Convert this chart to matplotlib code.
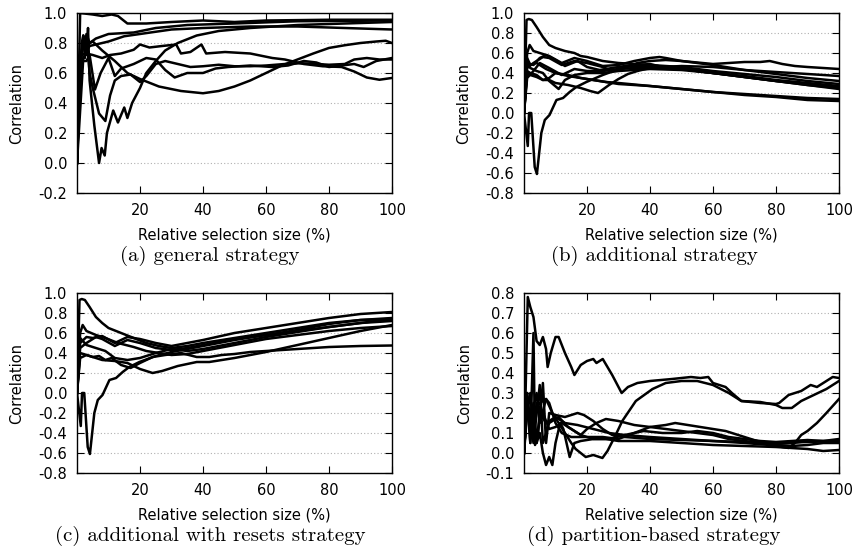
import matplotlib
matplotlib.use("Agg")
import matplotlib.pyplot as plt
from matplotlib.ticker import FormatStrFormatter, MultipleLocator

# each series: (relative selection size %, correlation)

# (a) general strategy
gen_1 = [(0, 0.0), (1, 1.0), (5, 0.99), (8, 0.98), (11, 0.99), (13, 0.98), (16, 0.93), (22, 0.93),
         (30, 0.94), (40, 0.95), (50, 0.94), (60, 0.95), (80, 0.955), (100, 0.955)]
gen_2 = [(0, 0.0), (1.5, 0.8), (2, 0.85), (2.5, 0.7), (3, 0.86), (4, 0.8), (6, 0.83), (10, 0.86),
         (18, 0.87), (25, 0.9), (35, 0.92), (50, 0.93), (70, 0.945), (100, 0.95)]
gen_3 = [(0, 0.0), (2, 0.7), (4, 0.78), (6, 0.79), (10, 0.81), (15, 0.845), (20, 0.86), (30, 0.89),
         (40, 0.9), (55, 0.91), (70, 0.91), (85, 0.9), (100, 0.89)]
gen_4 = [(0, 0.0), (1, 0.6), (2, 0.85), (3, 0.72), (3.5, 0.9), (4, 0.55), (5.5, 0.25), (7, 0.0),
         (7.8, 0.1), (8.8, 0.05), (9.5, 0.2), (11.5, 0.35), (13, 0.27), (15, 0.37), (16, 0.3),
         (17.5, 0.4), (20, 0.5), (22, 0.6), (25, 0.68), (28, 0.75), (32, 0.8), (38, 0.85),
         (45, 0.88), (55, 0.9), (70, 0.92), (85, 0.93), (100, 0.94)]
gen_5 = [(0, 0.0), (1, 0.65), (2, 0.8), (3, 0.75), (4, 0.8), (5, 0.81), (8, 0.75), (12, 0.68),
         (16, 0.6), (20, 0.56), (26, 0.51), (33, 0.48), (40, 0.465), (45, 0.48), (50, 0.51),
         (55, 0.55), (60, 0.6), (65, 0.65), (70, 0.69), (75, 0.73), (80, 0.767), (85, 0.785),
         (90, 0.8), (95, 0.81), (98, 0.815), (100, 0.8)]
gen_6 = [(0, 0.0), (1, 0.72), (3, 0.73), (5, 0.72), (8, 0.7), (10.5, 0.72), (14, 0.73), (18, 0.755),
         (20, 0.79), (23, 0.77), (27, 0.78), (31.5, 0.79), (33, 0.73), (36, 0.74), (39.5, 0.79),
         (41, 0.73), (47, 0.74), (55, 0.73), (62, 0.7), (66, 0.69), (72, 0.66), (78, 0.645),
         (84, 0.64), (88, 0.61), (92, 0.57), (96, 0.555), (100, 0.567)]
gen_7 = [(0, 0.0), (1, 0.7), (2, 0.8), (3, 0.85), (4, 0.6), (5, 0.5), (7, 0.33), (9, 0.28),
         (10.5, 0.45), (12, 0.55), (14, 0.58), (17, 0.59), (20, 0.54), (22, 0.58), (25, 0.66),
         (28, 0.68), (32, 0.66), (36, 0.64), (40, 0.645), (45, 0.655), (50, 0.645), (55, 0.645),
         (60, 0.65), (66, 0.66), (71, 0.665), (76, 0.66), (80, 0.655), (85, 0.66), (88, 0.69),
         (92, 0.7), (96, 0.69), (100, 0.69)]
gen_8 = [(0, 0.0), (1, 0.68), (3, 0.68), (4, 0.72), (5.7, 0.49), (7.5, 0.6), (10, 0.7), (12, 0.58),
         (14, 0.63), (18, 0.66), (22, 0.7), (25, 0.69), (28, 0.62), (31, 0.57), (35, 0.6),
         (40, 0.6), (44, 0.63), (48, 0.64), (55, 0.65), (62, 0.64), (67, 0.65), (72, 0.68),
         (76, 0.67), (80, 0.64), (84, 0.65), (88, 0.66), (91, 0.64), (95, 0.68), (100, 0.7)]

# (b) additional strategy
add_1 = [(0, 0.0), (0.8, 0.93), (1.5, 0.94), (2.5, 0.93), (4, 0.86), (6, 0.76), (8, 0.68),
         (10, 0.65), (13, 0.62), (16, 0.6), (18, 0.57), (20, 0.56), (25, 0.52), (30, 0.5),
         (40, 0.48), (50, 0.46), (60, 0.42), (70, 0.39), (80, 0.36), (90, 0.32), (100, 0.29)]
add_2 = [(0, 0.0), (1, 0.6), (1.8, 0.68), (3, 0.62), (5, 0.6), (8, 0.57), (12, 0.5), (16, 0.55),
         (20, 0.52), (25, 0.47), (30, 0.48), (35, 0.52), (40, 0.55), (43, 0.56), (45, 0.55),
         (50, 0.52), (60, 0.48), (70, 0.43), (80, 0.39), (90, 0.35), (100, 0.32)]
add_3 = [(0, 0.0), (1, 0.45), (3, 0.5), (6, 0.56), (8, 0.55), (12, 0.48), (16, 0.52), (20, 0.5),
         (25, 0.46), (28, 0.42), (32, 0.45), (36, 0.5), (40, 0.52), (45, 0.53), (50, 0.52),
         (60, 0.49), (65, 0.5), (70, 0.51), (75, 0.51), (78, 0.52), (82, 0.49), (86, 0.47),
         (90, 0.46), (95, 0.45), (100, 0.44)]
add_4 = [(0, 0.0), (1.2, -0.33), (1.6, 0.0), (2.3, 0.0), (3.4, -0.54), (4.1, -0.61), (5.5, -0.2),
         (6.6, -0.07), (8.1, -0.02), (10.3, 0.13), (12.4, 0.15), (14.5, 0.21), (16.6, 0.26),
         (19.8, 0.31), (25, 0.38), (29.3, 0.43), (33.5, 0.47), (40, 0.47), (45, 0.46),
         (50, 0.44), (60, 0.4), (70, 0.36), (80, 0.32), (90, 0.29), (100, 0.26)]
add_5 = [(0, 0.0), (1, 0.4), (2, 0.38), (4, 0.36), (6, 0.33), (8, 0.33), (10, 0.3), (14, 0.28),
         (18, 0.25), (21, 0.22), (23.5, 0.2), (27, 0.28), (30, 0.34), (33, 0.39), (36, 0.42),
         (40, 0.45), (45, 0.45), (50, 0.44), (60, 0.4), (70, 0.36), (80, 0.32), (90, 0.28),
         (100, 0.25)]
add_6 = [(0, 0.0), (1, 0.5), (2, 0.45), (4, 0.42), (6, 0.4), (8, 0.32), (11, 0.24), (13, 0.33),
         (16, 0.38), (20, 0.4), (25, 0.4), (30, 0.42), (40, 0.44), (50, 0.43), (60, 0.4),
         (70, 0.36), (80, 0.32), (90, 0.28), (100, 0.24)]
add_7 = [(0, 0.0), (1, 0.42), (2, 0.4), (4, 0.38), (6, 0.33), (8, 0.35), (10, 0.4), (14, 0.37),
         (18, 0.35), (22, 0.33), (26, 0.31), (30, 0.29), (35, 0.28), (40, 0.27), (50, 0.24),
         (60, 0.21), (70, 0.19), (80, 0.17), (90, 0.15), (100, 0.14)]
add_8 = [(0, 0.0), (1, 0.55), (2, 0.48), (4, 0.5), (7, 0.44), (10, 0.4), (14, 0.38), (18, 0.35),
         (22, 0.33), (26, 0.31), (30, 0.3), (40, 0.27), (50, 0.24), (60, 0.21), (70, 0.18),
         (80, 0.16), (90, 0.13), (100, 0.12)]
add_9 = [(0, 0.0), (1, 0.5), (3, 0.48), (5, 0.55), (7, 0.58), (10, 0.53), (13, 0.47), (17, 0.52),
         (20, 0.46), (24, 0.43), (28, 0.45), (32, 0.47), (36, 0.48), (40, 0.49), (44, 0.46),
         (50, 0.47), (60, 0.46), (70, 0.43), (80, 0.41), (90, 0.39), (100, 0.37)]
add_10 = [(0, 0.0), (1, 0.35), (3, 0.42), (5, 0.5), (8, 0.45), (12, 0.38), (16, 0.44), (20, 0.42),
          (25, 0.42), (30, 0.44), (35, 0.45), (40, 0.45), (50, 0.44), (60, 0.4), (70, 0.37),
          (80, 0.33), (90, 0.3), (100, 0.27)]

# (c) additional with resets strategy
rst_1 = [(0, 0.0), (0.8, 0.93), (1.5, 0.94), (2.5, 0.93), (4, 0.86), (6, 0.76), (8, 0.7),
         (10, 0.65), (14, 0.6), (18, 0.55), (22, 0.5), (26, 0.47), (30, 0.45), (35, 0.47),
         (40, 0.5), (50, 0.55), (60, 0.6), (70, 0.65), (80, 0.7), (90, 0.73), (100, 0.74)]
rst_2 = [(0, 0.0), (1, 0.4), (4, 0.37), (8, 0.33), (12, 0.32), (16, 0.3), (20, 0.24), (24, 0.2),
         (27, 0.22), (32, 0.27), (38, 0.31), (42, 0.31), (50, 0.35), (60, 0.41), (70, 0.48),
         (80, 0.55), (90, 0.62), (100, 0.68)]
rst_3 = [(0, 0.0), (1.2, -0.33), (1.6, 0.0), (2.3, 0.0), (3.4, -0.54), (4.1, -0.61), (5.5, -0.2),
         (6.6, -0.07), (8.1, -0.02), (10.3, 0.13), (12.4, 0.15), (14.5, 0.21), (16.6, 0.26),
         (19.8, 0.31), (25, 0.37), (30, 0.41), (35, 0.44), (40, 0.47), (50, 0.53), (60, 0.58),
         (70, 0.63), (80, 0.69), (90, 0.73), (100, 0.75)]
rst_4 = [(0, 0.0), (1, 0.5), (3, 0.56), (5, 0.55), (8, 0.57), (12, 0.5), (16, 0.56), (20, 0.54),
         (25, 0.5), (30, 0.47), (35, 0.5), (40, 0.53), (50, 0.6), (60, 0.65), (70, 0.7),
         (80, 0.75), (90, 0.79), (100, 0.81)]
rst_5 = [(0, 0.0), (1, 0.35), (3, 0.38), (5, 0.36), (7, 0.37), (9, 0.33), (11, 0.35), (14, 0.28),
         (17, 0.25), (20, 0.3), (24, 0.36), (28, 0.38), (33, 0.4), (38, 0.36), (42, 0.36),
         (46, 0.38), (50, 0.39), (55, 0.41), (60, 0.42), (70, 0.44), (80, 0.46), (90, 0.47),
         (100, 0.475)]
rst_6 = [(0, 0.0), (1, 0.6), (1.8, 0.68), (3, 0.62), (6, 0.58), (9, 0.55), (13, 0.5), (18, 0.46),
         (22, 0.42), (26, 0.4), (30, 0.38), (35, 0.39), (40, 0.42), (50, 0.48), (60, 0.54),
         (70, 0.58), (80, 0.62), (90, 0.65), (100, 0.67)]
rst_7 = [(0, 0.0), (1, 0.45), (3, 0.5), (6, 0.56), (8, 0.54), (12, 0.47), (16, 0.53), (20, 0.5),
         (25, 0.45), (30, 0.43), (35, 0.45), (40, 0.48), (50, 0.54), (60, 0.58), (70, 0.62),
         (80, 0.66), (90, 0.7), (100, 0.72)]
rst_8 = [(0, 0.0), (1, 0.55), (3, 0.48), (6, 0.45), (9, 0.42), (12, 0.35), (16, 0.33), (20, 0.35),
         (25, 0.4), (30, 0.44), (35, 0.42), (40, 0.44), (50, 0.5), (60, 0.56), (70, 0.61),
         (80, 0.66), (90, 0.7), (100, 0.74)]

# (d) partition-based strategy
prt_1 = [(0, 0.0), (0.5, 0.3), (1.2, 0.78), (2, 0.73), (3, 0.68), (4, 0.56), (5, 0.54), (6, 0.58),
         (7, 0.52), (7.5, 0.43), (8.5, 0.5), (10, 0.58), (11, 0.58), (13, 0.5), (15, 0.43),
         (16, 0.39), (18, 0.44), (20, 0.46), (22, 0.47), (23, 0.45), (25, 0.47), (28, 0.39),
         (31, 0.3), (33, 0.33), (36, 0.35), (40, 0.36), (47, 0.37), (53, 0.38), (56, 0.375),
         (58.5, 0.38), (60, 0.35), (62, 0.34), (64, 0.33), (66, 0.3), (69, 0.26), (75, 0.25),
         (80, 0.245), (81, 0.25), (84, 0.29), (88, 0.31), (91, 0.34), (93, 0.33), (95, 0.35),
         (98, 0.38), (100, 0.375)]
prt_2 = [(0, 0.0), (1, 0.28), (2, 0.05), (3, 0.2), (5, 0.25), (7, 0.27), (9, 0.2), (11, 0.15),
         (13, 0.1), (15, 0.05), (16.4, 0.02), (19.6, -0.02), (22, -0.01), (24.9, -0.025),
         (26.5, 0.01), (29.1, 0.09), (31.2, 0.16), (35.5, 0.26), (40.8, 0.32), (45, 0.35),
         (50, 0.36), (55, 0.36), (60, 0.34), (65, 0.3), (69, 0.26), (75, 0.255), (80, 0.24),
         (82, 0.225), (85, 0.225), (88, 0.26), (92, 0.29), (96, 0.32), (100, 0.36)]
prt_3 = [(0, 0.0), (1, 0.3), (2, 0.1), (3, 0.25), (4, 0.05), (5, 0.2), (7, 0.15), (10, 0.18),
         (13, 0.15), (17, 0.14), (22, 0.12), (27, 0.1), (32, 0.09), (40, 0.08), (50, 0.07),
         (60, 0.06), (70, 0.05), (78, 0.04), (84, 0.025), (86, 0.05), (88, 0.09), (90, 0.11),
         (93, 0.15), (96, 0.2), (100, 0.27)]
prt_4 = [(0, 0.0), (1, 0.27), (2, 0.1), (3, 0.2), (4, 0.05), (5, 0.1), (6, 0.0), (7, -0.06),
         (8, -0.02), (9, -0.06), (10, 0.05), (11.5, 0.15), (12.5, 0.12), (13.5, 0.05),
         (14.5, -0.02), (16, 0.05), (18, 0.06), (22, 0.07), (26, 0.07), (30, 0.06), (40, 0.06),
         (50, 0.05), (60, 0.04), (70, 0.035), (80, 0.03), (90, 0.02), (95, 0.01), (100, 0.015)]
prt_5 = [(0, 0.0), (1, 0.3), (2, 0.05), (3, 0.6), (3.5, 0.04), (4.5, 0.1), (6, 0.35), (7, 0.05),
         (8, 0.2), (10, 0.19), (13, 0.18), (15, 0.19), (17, 0.2), (19, 0.19), (22, 0.16),
         (25, 0.12), (28, 0.09), (32, 0.08), (40, 0.07), (50, 0.065), (60, 0.06), (70, 0.055),
         (80, 0.05), (90, 0.055), (100, 0.06)]
prt_6 = [(0, 0.0), (1, 0.2), (2, 0.3), (3, 0.1), (4, 0.25), (6, 0.2), (8, 0.12), (10, 0.13),
         (12, 0.15), (15, 0.12), (18, 0.09), (20, 0.12), (23, 0.15), (26, 0.17), (30, 0.16),
         (35, 0.14), (40, 0.13), (45, 0.12), (50, 0.11), (55, 0.1), (60, 0.09), (65, 0.07),
         (70, 0.06), (75, 0.05), (80, 0.04), (85, 0.035), (90, 0.04), (95, 0.05), (100, 0.05)]
prt_7 = [(0, 0.0), (1, 0.25), (2, 0.15), (4, 0.3), (5, 0.15), (7, 0.27), (8, 0.25), (10, 0.15),
         (12, 0.1), (15, 0.08), (20, 0.08), (25, 0.08), (30, 0.07), (35, 0.1), (40, 0.13),
         (45, 0.14), (48, 0.15), (52, 0.14), (56, 0.13), (60, 0.12), (64, 0.11), (68, 0.09),
         (72, 0.07), (76, 0.05), (80, 0.045), (85, 0.05), (90, 0.06), (95, 0.06), (100, 0.06)]
prt_8 = [(0, 0.0), (1, 0.28), (3, 0.05), (5, 0.34), (6, 0.05), (8, 0.15), (11, 0.18), (14, 0.13),
         (18, 0.09), (22, 0.07), (27, 0.07), (32, 0.09), (38, 0.11), (44, 0.1), (50, 0.1),
         (55, 0.11), (60, 0.1), (65, 0.08), (70, 0.07), (75, 0.06), (80, 0.055), (85, 0.06),
         (90, 0.065), (95, 0.06), (100, 0.07)]

captions = ["(a) general strategy", "(b) additional strategy",
            "(c) additional with resets strategy", "(d) partition-based strategy"]
y_limits = [(-0.2, 1.0), (-0.8, 1.0), (-0.8, 1.0), (-0.1, 0.8)]
y_steps = [0.2, 0.2, 0.2, 0.1]
x_ticks = [20, 40, 60, 80, 100]

panels = [
    [gen_1, gen_2, gen_3, gen_4, gen_5, gen_6, gen_7, gen_8],
    [add_1, add_2, add_3, add_4, add_5, add_6, add_7, add_8, add_9, add_10],
    [rst_1, rst_2, rst_3, rst_4, rst_5, rst_6, rst_7, rst_8],
    [prt_1, prt_2, prt_3, prt_4, prt_5, prt_6, prt_7, prt_8],
]

plt.rcParams['axes.unicode_minus'] = False
plt.rcParams['font.family'] = 'DejaVu Sans'

W, H = 854, 558
fig = plt.figure(figsize=(W / 100, H / 100), dpi=100)

# axes boxes in pixels: left, top, right, bottom
boxes = [(77, 13, 392, 193), (524, 13, 839, 193), (77, 293, 392, 473), (524, 293, 839, 473)]
caption_pos = [(210, 256), (654, 256), (210, 536), (654, 536)]

for i in range(4):
    l, t, r, b = boxes[i]
    ax = fig.add_axes([l / W, 1 - b / H, (r - l) / W, (b - t) / H])
    for line in panels[i]:
        xs = [p[0] for p in line]
        ys = [p[1] for p in line]
        ax.plot(xs, ys, color='black', lw=1.8)
    ax.set_xlim(0, 100)
    ax.set_ylim(*y_limits[i])
    ax.set_xticks(x_ticks)
    ax.yaxis.set_major_locator(MultipleLocator(y_steps[i]))
    ax.yaxis.set_major_formatter(FormatStrFormatter('%.1f'))
    ax.grid(axis='y', linestyle=(0, (1, 2)), color='#b0b0b0', lw=0.8)
    ax.tick_params(direction='in', top=True, right=True, length=5, width=0.8,
                   labelsize=10.5, pad=7)
    for s in ax.spines.values():
        s.set_linewidth(1.0)
    ax.set_xlabel('Relative selection size (%)', fontsize=10.5, labelpad=7)
    ax.set_ylabel('Correlation', fontsize=10.5, labelpad=10)
    cx, cy = caption_pos[i]
    fig.text(cx / W, 1 - cy / H, captions[i], ha='center', va='center',
             family='cmr10', fontsize=15)

fig.savefig('out.png', dpi=100)
